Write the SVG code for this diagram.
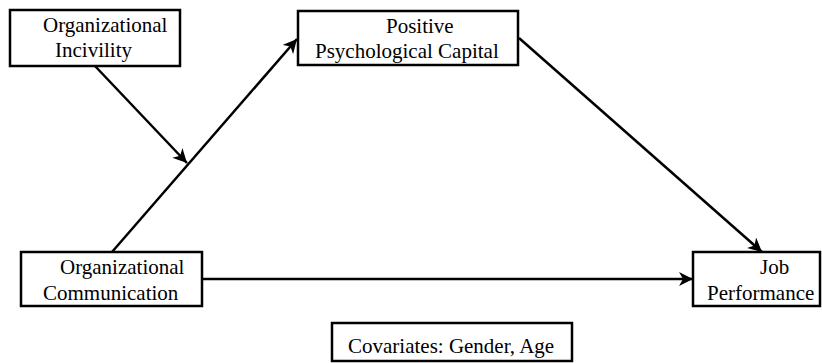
<svg xmlns="http://www.w3.org/2000/svg" width="822" height="363" viewBox="0 0 822 363">
  <style>
    .box { fill: #ffffff; stroke: #000000; stroke-width: 2.5; }
    .edge { stroke: #000000; stroke-width: 2.5; fill: none; }
  </style>
  <defs>
    <marker id="arr" markerUnits="userSpaceOnUse" markerWidth="16" markerHeight="14" refX="14" refY="7" orient="auto">
      <path d="M0,0 L14,7 L0,14 L4,7 Z" fill="#000000"/>
    </marker>
  </defs>
  <rect width="822" height="363" fill="#ffffff"/>

  <g id="connectors">
    <line class="edge" x1="95" y1="66" x2="187" y2="163" marker-end="url(#arr)"/>
    <line class="edge" x1="112" y1="252" x2="297" y2="39" marker-end="url(#arr)"/>
    <line class="edge" x1="519" y1="38" x2="762" y2="252" marker-end="url(#arr)"/>
    <line class="edge" x1="202" y1="279" x2="693" y2="279" marker-end="url(#arr)"/>
  </g>

  <g id="incivility">
    <rect class="box" x="10" y="10" width="170" height="56"/>
    <text x="43" y="32" font-family="'Liberation Serif', serif" font-size="21">Organizational</text>
    <text x="55" y="57" font-family="'Liberation Serif', serif" font-size="21">Incivility</text>
  </g>

  <g id="psycap">
    <rect class="box" x="298" y="11" width="220" height="54"/>
    <text x="386" y="33" font-family="'Liberation Serif', serif" font-size="21">Positive</text>
    <text x="315" y="58" font-family="'Liberation Serif', serif" font-size="21">Psychological Capital</text>
  </g>

  <g id="communication">
    <rect class="box" x="21" y="252" width="181" height="54"/>
    <text x="60" y="274" font-family="'Liberation Serif', serif" font-size="21">Organizational</text>
    <text x="43" y="300" font-family="'Liberation Serif', serif" font-size="21">Communication</text>
  </g>

  <g id="performance">
    <rect class="box" x="693" y="252" width="127" height="54"/>
    <text x="760" y="274" font-family="'Liberation Serif', serif" font-size="21">Job</text>
    <text x="707" y="300" font-family="'Liberation Serif', serif" font-size="21">Performance</text>
  </g>

  <g id="covariates">
    <rect class="box" x="332" y="323" width="240" height="38"/>
    <text x="348" y="353" font-family="'Liberation Serif', serif" font-size="21">Covariates: Gender, Age</text>
  </g>
</svg>
